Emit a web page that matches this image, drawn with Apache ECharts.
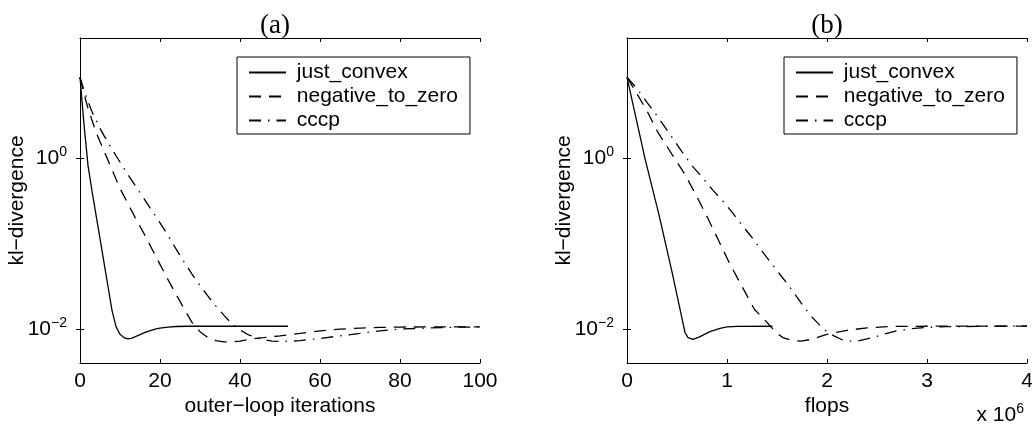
<!DOCTYPE html>
<html><head><meta charset="utf-8">
<script src="https://cdn.jsdelivr.net/npm/echarts@6/dist/echarts.min.js"></script>
<style>html,body{margin:0;padding:0;background:#fff}#c{width:1032px;height:425px}</style>
</head><body><div id="c"></div>
<script>
// ---- labels ----
const seriesNames = ['just_convex', 'negative_to_zero', 'cccp'];
const panelTitles = ['(a)', '(b)'];
const xNames = ['outer\u2212loop iterations', 'flops'];
const yName = 'kl\u2212divergence';
const xScaleNote = ['x 10', '6'];
// ---- axis ranges / ticks ----
const xRangeA = [0, 100], xStepA = 20;
const xRangeB = [0, 4], xStepB = 1;      // flops in units of 10^6
const yRange = [0.004, 26];
const yTickValues = [0.01, 1];

// ---- panel (a): outer-loop iterations ----
const iterJustA = [0,1,2,3,4,5,6,7,8,9,10,11,12,13,14,15,16,17,18,19,20,22,24,27,52];
const klJustA = [9.0,2.51,0.832,0.417,0.219,0.115,0.0603,0.0316,0.0166,0.0107,0.00871,0.00794,0.00767,0.00785,0.00822,0.00861,0.00902,0.0094,0.00973,0.01005,0.01028,0.01057,0.01072,0.01079,0.0108];
const iterNegA = [0,1,2,3,4,5,6,7,8,9,10,12,14,16,18,20,22,24,26,28,30,32,34,36,38,40,42,44,46,48,50,55,60,65,70,75,80,90,100];
const klNegA = [9.0,5.75,3.89,2.82,2.04,1.58,1.23,0.955,0.741,0.575,0.447,0.295,0.195,0.132,0.0871,0.0575,0.038,0.0257,0.0174,0.012,0.00933,0.00794,0.00733,0.00708,0.00708,0.00724,0.0075,0.00776,0.00794,0.00813,0.00832,0.00891,0.00955,0.01,0.01028,0.01047,0.01057,0.0106,0.0106];
const iterCcA = [0,1,2,3,4,5,6,7,8,9,10,12,14,16,18,20,22,24,26,28,30,32,34,36,38,40,42,44,46,48,50,52,55,60,65,70,75,80,85,90,95,100];
const klCcA = [9.0,6.31,4.68,3.55,2.82,2.26,1.86,1.55,1.29,1.08,0.912,0.646,0.468,0.339,0.245,0.176,0.126,0.0871,0.0617,0.0442,0.0324,0.0243,0.0186,0.0145,0.0115,0.00977,0.00861,0.00794,0.0075,0.00724,0.00716,0.00716,0.00733,0.00776,0.00832,0.00891,0.00955,0.01,0.0102,0.01042,0.01054,0.0106];

// ---- panel (b): flops (x 10^6) ----
const flopsJustB = [0,0.18,0.32,0.45,0.56,0.58,0.61,0.66,0.72,0.83,0.93,1.0,1.1,1.455];
const klJustB = [9.0,1.0,0.219,0.0468,0.01175,0.00912,0.00794,0.00759,0.00804,0.00933,0.0102,0.0106,0.01076,0.0108];
const flopsNegB = [0,0.1,0.2,0.308,0.45,0.575,0.7,0.808,0.92,1.025,1.15,1.275,1.375,1.44,1.5,1.56,1.66,1.74,1.85,1.99,2.09,2.2,2.4,2.65,3.0,4.0];
const klNegB = [9.0,5.75,3.63,2.04,1.12,0.668,0.355,0.2,0.107,0.0594,0.0316,0.017,0.0129,0.0106,0.00891,0.00794,0.00733,0.00724,0.00759,0.00861,0.00912,0.00966,0.01035,0.01076,0.0108,0.01084];
const flopsCcB = [0,0.1,0.2,0.308,0.45,0.55,0.658,0.76,0.858,0.96,1.058,1.15,1.242,1.34,1.442,1.53,1.625,1.7,1.775,1.85,1.925,2.0,2.07,2.14,2.22,2.3,2.4,2.5,2.6,2.7,2.85,3.0,3.2,3.5,4.0];
const klCcB = [9.0,6.61,4.57,3.09,1.78,1.2,0.804,0.589,0.427,0.316,0.229,0.166,0.122,0.0851,0.0594,0.0437,0.0316,0.0237,0.0178,0.0138,0.0112,0.00933,0.00832,0.00759,0.00724,0.00724,0.00767,0.00822,0.00891,0.00955,0.0101,0.01047,0.01067,0.01076,0.01084];

// ---- build ----
const FONT = 'Liberation Sans';
const FS = 21;
const zip = (xs, ys) => xs.map((x, i) => [x, ys[i]]);
const lineTypes = ['solid', [12, 8], [12, 7, 1.5, 7]];
const grids = [
  { left: 80, top: 38, width: 400, height: 325, outerBoundsMode: 'none' },
  { left: 627, top: 38, width: 400, height: 325, outerBoundsMode: 'none' }
];
const axisLineStyle = { show: true, lineStyle: { color: '#000', width: 1 } };
const tickStyle = { show: true, inside: true, length: 4, lineStyle: { color: '#000', width: 1 } };
const labelStyle = { color: '#000', fontFamily: FONT, fontSize: FS };

function xAxisPair(gi, range, step, name) {
  return [
    { type: 'value', gridIndex: gi, position: 'bottom', min: range[0], max: range[1], interval: step,
      name: name, nameLocation: 'middle', nameGap: 33, nameMoveOverlap: false,
      nameTextStyle: labelStyle, axisLine: axisLineStyle, axisTick: tickStyle,
      axisLabel: Object.assign({ margin: 8 }, labelStyle), splitLine: { show: false } },
    { type: 'value', gridIndex: gi, position: 'top', min: range[0], max: range[1], interval: step,
      axisLine: axisLineStyle, axisTick: tickStyle, axisLabel: { show: false }, splitLine: { show: false } }
  ];
}
const expFmt = v => '{b|10}{s|' + String(Math.round(Math.log10(v))).replace('-', '\u2212') + '}';
function yAxisPair(gi) {
  return [
    { type: 'log', logBase: 10, gridIndex: gi, position: 'left', min: yRange[0], max: yRange[1],
      name: yName, nameLocation: 'middle', nameGap: 52, nameMoveOverlap: false, nameTextStyle: labelStyle,
      axisLine: axisLineStyle,
      axisTick: Object.assign({ customValues: yTickValues }, tickStyle),
      axisLabel: { customValues: yTickValues, formatter: expFmt, margin: 13, color: '#000',
        rich: { b: { fontFamily: FONT, fontSize: FS, color: '#000' },
                s: { fontFamily: FONT, fontSize: 14, color: '#000', padding: [0, 0, 12, 0] } } },
      splitLine: { show: false } },
    { type: 'log', logBase: 10, gridIndex: gi, position: 'right', min: yRange[0], max: yRange[1],
      axisLine: axisLineStyle,
      axisTick: Object.assign({ customValues: yTickValues }, tickStyle),
      axisLabel: { show: false }, splitLine: { show: false } }
  ];
}
const xAxes = xAxisPair(0, xRangeA, xStepA, xNames[0]).concat(xAxisPair(1, xRangeB, xStepB, xNames[1]));
const yAxes = yAxisPair(0).concat(yAxisPair(1));

const panelData = [
  [zip(iterJustA, klJustA), zip(iterNegA, klNegA), zip(iterCcA, klCcA)],
  [zip(flopsJustB, klJustB), zip(flopsNegB, klNegB), zip(flopsCcB, klCcB)]
];
const series = [];
panelData.forEach((sets, p) => {
  sets.forEach((d, k) => {
    series.push({
      type: 'line', name: seriesNames[k], xAxisIndex: p * 2, yAxisIndex: p * 2,
      data: d, symbol: 'none', showSymbol: false, animation: false, silent: true,
      lineStyle: { color: '#000', width: 1.3, type: lineTypes[k], cap: 'butt' },
      itemStyle: { color: '#000' }
    });
  });
});

function legendAt(left) {
  return {
    data: seriesNames, orient: 'vertical', left: left, top: 57,
    padding: [5, 12, 3, 11], itemWidth: 37, itemHeight: 14, itemGap: 3,
    borderColor: '#000', borderWidth: 1, backgroundColor: '#fff',
    selectedMode: false, formatter: n => ' ' + n,
    itemStyle: { opacity: 0, color: 'rgba(0,0,0,0)', borderWidth: 0 },
    textStyle: { fontFamily: FONT, fontSize: FS, color: '#000' }
  };
}

const graphic = [
  { type: 'text', x: 275, y: 26, style: { text: panelTitles[0], fontFamily: 'Liberation Serif', fontSize: 27, fill: '#000', align: 'center', verticalAlign: 'middle' } },
  { type: 'text', x: 827, y: 26, style: { text: panelTitles[1], fontFamily: 'Liberation Serif', fontSize: 27, fill: '#000', align: 'center', verticalAlign: 'middle' } },
  { type: 'text', x: 1024, y: 415, style: {
      text: '{b|' + xScaleNote[0] + '}{s|' + xScaleNote[1] + '}', align: 'right', verticalAlign: 'middle',
      rich: { b: { fontFamily: FONT, fontSize: FS, fill: '#000' }, s: { fontFamily: FONT, fontSize: 14, fill: '#000', padding: [0, 0, 12, 0] } } } }
];

const chart = echarts.init(document.getElementById('c'), null, { renderer: 'canvas' });
chart.setOption({
  animation: false,
  backgroundColor: '#fff',
  grid: grids,
  xAxis: xAxes,
  yAxis: yAxes,
  legend: [legendAt(237), legendAt(784)],
  series: series,
  graphic: graphic
});
</script>
</body></html>
